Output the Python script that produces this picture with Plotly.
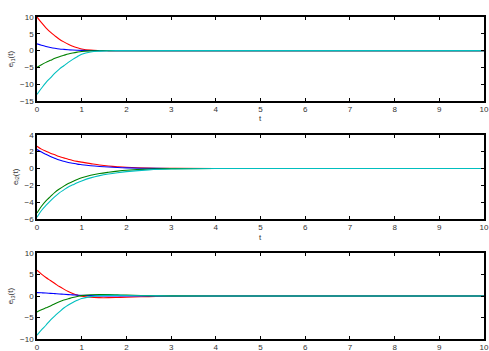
import plotly.graph_objects as go
from plotly.subplots import make_subplots

T = [0, 0.1, 0.2, 0.3, 0.4, 0.5, 0.6, 0.7, 0.8, 0.9, 1.0, 1.2, 1.4, 1.6, 1.8, 2.0, 2.5, 3.0, 4.0, 10.0]

# e_i1(t)
e1_red   = [10, 8.3, 6.8, 5.5, 4.4, 3.4, 2.6, 1.9, 1.3, 0.85, 0.5, 0.15, 0.04, 0.01, 0, 0, 0, 0, 0, 0]
e1_blue  = [2, 1.6, 1.25, 0.95, 0.7, 0.5, 0.37, 0.26, 0.18, 0.12, 0.08, 0.03, 0.01, 0, 0, 0, 0, 0, 0, 0]
e1_green = [-5, -4.2, -3.5, -2.9, -2.3, -1.8, -1.4, -1.0, -0.7, -0.45, -0.25, -0.08, -0.02, 0, 0, 0, 0, 0, 0, 0]
e1_cyan  = [-13, -11.2, -9.5, -8.1, -6.7, -5.5, -4.5, -3.5, -2.6, -1.8, -1.1, -0.4, -0.15, -0.05, -0.01, 0, 0, 0, 0, 0]

# e_i2(t)
e2_red   = [2.65, 2.3, 2.05, 1.82, 1.62, 1.42, 1.26, 1.1, 0.95, 0.84, 0.75, 0.58, 0.42, 0.3, 0.21, 0.14, 0.04, 0.01, 0, 0]
e2_blue  = [2.25, 1.95, 1.68, 1.42, 1.2, 1.0, 0.85, 0.72, 0.62, 0.52, 0.45, 0.33, 0.24, 0.17, 0.11, 0.07, 0.02, 0, 0, 0]
e2_green = [-5.3, -4.5, -3.85, -3.35, -2.85, -2.45, -2.1, -1.8, -1.55, -1.3, -1.1, -0.8, -0.6, -0.45, -0.32, -0.22, -0.08, -0.02, 0, 0]
e2_cyan  = [-5.8, -5.0, -4.4, -3.85, -3.35, -2.9, -2.55, -2.2, -1.95, -1.7, -1.48, -1.12, -0.85, -0.65, -0.5, -0.38, -0.17, -0.07, -0.01, 0]

# e_i3(t)
e3_red   = [6.0, 5.1, 4.3, 3.6, 2.9, 2.2, 1.6, 1.05, 0.6, 0.22, -0.05, -0.3, -0.38, -0.38, -0.33, -0.27, -0.13, -0.05, 0, 0]
e3_blue  = [0.8, 0.75, 0.7, 0.62, 0.55, 0.48, 0.4, 0.33, 0.27, 0.2, 0.15, 0.08, 0.03, 0.01, 0, 0, 0, 0, 0, 0]
e3_green = [-3.7, -3.2, -2.75, -2.3, -1.8, -1.35, -0.95, -0.65, -0.35, -0.1, 0.08, 0.3, 0.35, 0.33, 0.27, 0.2, 0.1, 0.04, 0, 0]
e3_cyan  = [-9.1, -7.9, -6.8, -5.6, -4.6, -3.7, -2.8, -2.1, -1.5, -1.0, -0.6, -0.15, 0.08, 0.15, 0.15, 0.12, 0.05, 0.02, 0, 0]

x_ticks = list(range(0, 11))
y_labels = ["e<sub>i1</sub>(t)", "e<sub>i2</sub>(t)", "e<sub>i3</sub>(t)"]
x_label = "t"
y_ranges = [[-15, 10], [-6, 4], [-10, 10]]
y_dticks = [5, 2, 5]
colors = ["#ff0000", "#0000ff", "#008000", "#00bfbf"]

panels = [
    [e1_red, e1_blue, e1_green, e1_cyan],
    [e2_red, e2_blue, e2_green, e2_cyan],
    [e3_red, e3_blue, e3_green, e3_cyan],
]

fig = make_subplots(rows=3, cols=1)
for r, series in enumerate(panels, start=1):
    for s, c in zip(series, colors):
        fig.add_trace(go.Scatter(x=T, y=s, mode="lines", line=dict(color=c, width=1.1, shape="spline"),
                                 showlegend=False), row=r, col=1)

domains = [[0.739, 1.0], [0.373, 0.634], [0.0, 0.267]]
x_title_y = [0.684, 0.314, -0.055]
font = dict(family="Liberation Sans, Arial, sans-serif", size=8, color="#333333")
for i in range(3):
    ax = "" if i == 0 else str(i + 1)
    fig.layout["xaxis" + ax].update(
        range=[0, 10], tickvals=x_ticks, ticks="inside", ticklen=3, tickcolor="black",
        showline=True, linecolor="black", linewidth=1.5, mirror="allticks", showgrid=False,
        zeroline=False, tickfont=font, automargin=False,
    )
    fig.layout["yaxis" + ax].update(
        range=y_ranges[i], dtick=y_dticks[i], ticks="inside", ticklen=3, tickcolor="black",
        showline=True, linecolor="black", linewidth=1.5, mirror="allticks", showgrid=False,
        zeroline=False, tickfont=font, domain=domains[i], automargin=False,
        title=dict(text=y_labels[i], font=font, standoff=5),
    )
    fig.add_annotation(text=x_label, xref="x" + ax + " domain", x=0.5, yref="paper", y=x_title_y[i],
                       yanchor="middle", showarrow=False, font=font)

fig.update_layout(
    width=489, height=351, margin=dict(l=37, r=5, t=17, b=12),
    paper_bgcolor="white", plot_bgcolor="white", font=font,
)
fig.write_html("out.html", post_script="document.body.style.margin='0';",
               config={"displayModeBar": False})
